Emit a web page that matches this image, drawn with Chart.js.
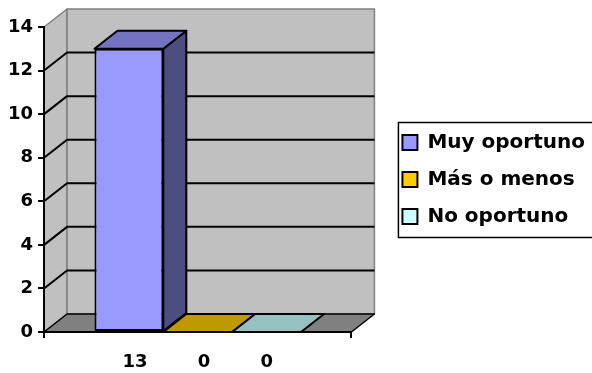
<!DOCTYPE html>
<html lang="es">
<head>
<meta charset="UTF-8">
<title>Oportunidad</title>
<script src="https://cdn.jsdelivr.net/npm/chart.js"></script>
<style>
    html, body { margin: 0; padding: 0; background: #fff; }
    canvas { display: block; }
</style>
</head>
<body>
<canvas id="chart" width="592" height="373"></canvas>
<script>
// Series and values
const seriesNames = ['Muy oportuno', 'Más o menos', 'No oportuno'];
const values = [13, 0, 0];
const yMin = 0;
const yMax = 14;
const yStep = 2;

// Colours: front face / top face / right side face
const frontColors = ['#9999FF', '#FFCC00', '#CCFFFF'];
const topColors = ['#7373BF', '#C09900', '#99C0C0'];
const sideColors = ['#4D4D80', '#806600', '#668080'];

// The single category label lists the values under the bars
const categories = [values.join('        ')];

// depth of the 3D box
const DX = 23, DY = -18;

function poly(ctx, pts, fill, stroke, lw) {
    ctx.beginPath();
    ctx.moveTo(pts[0][0], pts[0][1]);
    for (let i = 1; i < pts.length; i++) ctx.lineTo(pts[i][0], pts[i][1]);
    ctx.closePath();
    if (fill) { ctx.fillStyle = fill; ctx.fill(); }
    if (stroke) { ctx.strokeStyle = stroke; ctx.lineWidth = lw || 1; ctx.stroke(); }
}

// walls, floor and grid lines behind the bars
const walls = {
    id: 'walls',
    beforeDraw(chart) {
        const ctx = chart.ctx;
        const { left, right, top, bottom } = chart.chartArea;
        const y = chart.scales.y;
        ctx.save();
        ctx.lineJoin = 'round';
        // side wall
        poly(ctx, [[left, top], [left + DX, top + DY], [left + DX, bottom + DY], [left, bottom]], '#C0C0C0', '#808080', 1.5);
        // back wall
        poly(ctx, [[left + DX, top + DY], [right + DX, top + DY], [right + DX, bottom + DY], [left + DX, bottom + DY]], '#C0C0C0', '#808080', 1.5);
        // grid lines across side and back wall
        ctx.strokeStyle = '#000';
        ctx.lineWidth = 2;
        y.ticks.forEach(t => {
            if (t.value <= y.min || t.value >= y.max) return;
            const py = y.getPixelForValue(t.value);
            ctx.beginPath();
            ctx.moveTo(left, py);
            ctx.lineTo(left + DX, py + DY);
            ctx.lineTo(right + DX, py + DY);
            ctx.stroke();
        });
        // floor
        poly(ctx, [[left, bottom], [left + DX, bottom + DY], [right + DX, bottom + DY], [right, bottom]], '#808080', '#000', 1.5);
        ctx.restore();
    },
    afterDatasetsDraw(chart) {
        const ctx = chart.ctx;
        ctx.save();
        ctx.lineJoin = 'round';
        chart.data.datasets.forEach((ds, i) => {
            const meta = chart.getDatasetMeta(i);
            meta.data.forEach(el => {
                if (el.skip) return;
                const x0 = el.x - el.width / 2, x1 = el.x + el.width / 2;
                const yt = el.y, yb = el.base;
                if (yb - yt > 0.5) {
                    poly(ctx, [[x1, yt], [x1 + DX, yt + DY], [x1 + DX, yb + DY], [x1, yb]], sideColors[i], '#000', 2);
                }
                poly(ctx, [[x0, yt], [x0 + DX, yt + DY], [x1 + DX, yt + DY], [x1, yt]], topColors[i], '#000', 2);
            });
        });
        ctx.restore();
    },
    afterDraw(chart) {
        // frame round the legend
        const hb = chart.legend.legendHitBoxes;
        if (!hb || !hb.length) return;
        const ctx = chart.ctx;
        const first = hb[0], last = hb[hb.length - 1];
        const x = first.left - 4, y = first.top - 10;
        const h = last.top + last.height + 11 - y;
        ctx.save();
        ctx.strokeStyle = '#000';
        ctx.lineWidth = 1.5;
        ctx.strokeRect(x, y, chart.width - x + 5, h);
        ctx.restore();
    }
};

Chart.defaults.font.family = "'DejaVu Sans', sans-serif";
Chart.defaults.font.weight = 'bold';
Chart.defaults.color = '#000';

new Chart(document.getElementById('chart'), {
    type: 'bar',
    data: {
        labels: categories,
        datasets: seriesNames.map((name, i) => ({
            label: name,
            data: [values[i]],
            backgroundColor: frontColors[i],
            borderColor: '#000',
            borderWidth: 2,
            borderSkipped: false,
            categoryPercentage: 0.672,
            barPercentage: 1,
            yAxisID: 'y'
        }))
    },
    options: {
        responsive: false,
        animation: false,
        layout: { padding: { left: 3, top: 27, right: -3, bottom: 0 } },
        plugins: {
            tooltip: { enabled: false },
            legend: {
                position: 'right',
                fullSize: false,
                maxWidth: 300,
                labels: {
                    boxWidth: 15,
                    boxHeight: 15,
                    padding: 17,
                    font: { size: 20, weight: 'bold' }
                }
            }
        },
        scales: {
            x: {
                grid: { drawOnChartArea: false, tickLength: 6, color: '#000', lineWidth: 2 },
                border: { color: '#000', width: 2 },
                ticks: { padding: 14, maxRotation: 0, minRotation: 0, font: { size: 18, weight: 'bold' } },
                afterFit(scale) { scale.height = 41; }
            },
            y: {
                min: yMin,
                max: yMax,
                ticks: { stepSize: yStep, padding: 5, font: { size: 18, weight: 'bold' } },
                grid: { drawOnChartArea: false, tickLength: 6, color: '#000', lineWidth: 2 },
                border: { color: '#000', width: 2 }
            },
            // empty axis that leaves room for the 3D depth before the legend
            gap: {
                type: 'linear',
                position: 'right',
                display: true,
                grid: { display: false },
                border: { display: false },
                ticks: { display: false },
                afterFit(scale) { scale.width = 34; }
            }
        }
    },
    plugins: [walls]
});
</script>
</body>
</html>
